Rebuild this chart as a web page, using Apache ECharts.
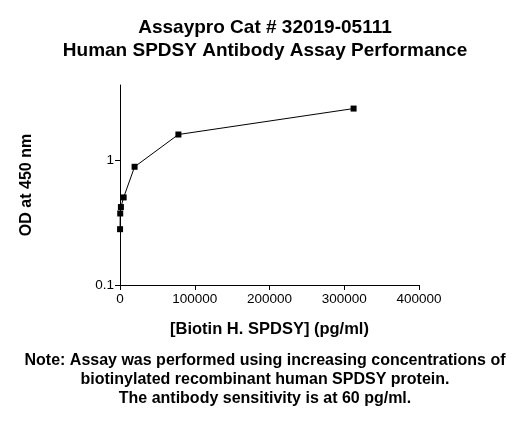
<!DOCTYPE html>
<html>
<head>
<meta charset="utf-8">
<script src="https://cdn.jsdelivr.net/npm/echarts@6/dist/echarts.min.js"></script>
<style>
html,body{margin:0;padding:0;background:#fff;}
#c{width:530px;height:425px;}
</style>
</head>
<body>
<div id="c"></div>
<script>
var concentrations = [76, 305, 1221, 4883, 19531, 78125, 312500];
var odValues = [0.28, 0.374, 0.421, 0.503, 0.885, 1.605, 2.59];
var xTicks = [0, 100000, 200000, 300000, 400000];
var yTicks = [0.1, 1];
var titleLines = ['Assaypro Cat # 32019-05111', 'Human SPDSY Antibody Assay Performance'];
var noteLines = ['Note: Assay was performed using increasing concentrations of',
  'biotinylated recombinant human SPDSY protein.',
  'The antibody sensitivity is at 60 pg/ml.'];

var FONT = '"Liberation Sans", Arial, sans-serif';
var chart = echarts.init(document.getElementById('c'));
var pts = concentrations.map(function (x, i) { return [x, odValues[i]]; });

chart.setOption({
  animation: false,
  backgroundColor: '#fff',
  title: {
    text: titleLines.join('\n'),
    left: 'center',
    top: 11,
    textStyle: { fontFamily: FONT, fontSize: 19, fontWeight: 'bold', color: '#000', lineHeight: 23 }
  },
  grid: { left: 120, right: 111, top: 85, bottom: 140, containLabel: false },
  xAxis: {
    type: 'value',
    min: 0, max: 400000, interval: 100000,
    name: '[Biotin H. SPDSY] (pg/ml)',
    nameLocation: 'middle',
    nameGap: 36,
    nameTextStyle: { fontFamily: FONT, fontSize: 16.5, fontWeight: 'bold', color: '#000' },
    axisLine: { show: true, lineStyle: { color: '#000', width: 1 } },
    axisTick: { show: true, length: 5, lineStyle: { color: '#000' }, customValues: xTicks },
    axisLabel: { fontFamily: FONT, fontSize: 13.5, color: '#000', margin: 7, customValues: xTicks,
      formatter: function (v) { return String(v); } },
    splitLine: { show: false }
  },
  yAxis: {
    type: 'log',
    logBase: 10,
    min: 0.1, max: 4,
    name: 'OD at 450 nm',
    nameLocation: 'middle',
    nameGap: 85,
    nameTextStyle: { fontFamily: FONT, fontSize: 16, fontWeight: 'bold', color: '#000' },
    axisLine: { show: true, lineStyle: { color: '#000', width: 1 } },
    axisTick: { show: true, length: 5, lineStyle: { color: '#000' }, customValues: yTicks },
    axisLabel: { fontFamily: FONT, fontSize: 13.5, color: '#000', margin: 6, customValues: yTicks,
      formatter: function (v) { return String(v); } },
    splitLine: { show: false },
    minorTick: { show: false }
  },
  series: [{
    type: 'line',
    data: pts,
    symbol: 'rect',
    symbolSize: 6,
    lineStyle: { color: '#000', width: 1 },
    itemStyle: { color: '#000' }
  }],
  graphic: noteLines.map(function (t, i) {
    return {
      type: 'text',
      left: 'center',
      top: 353 + i * 19,
      style: { text: t, fontFamily: FONT, fontSize: 16, fontWeight: 'bold', fill: '#000' }
    };
  })
});
</script>
</body>
</html>
